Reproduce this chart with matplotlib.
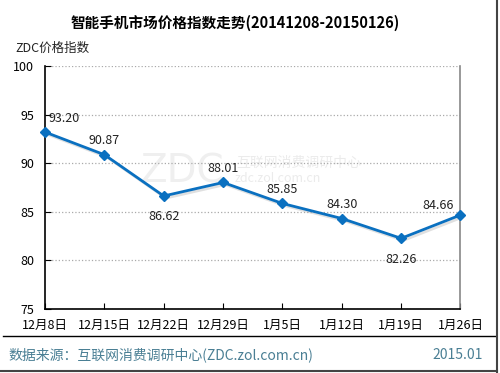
import numpy as np
import matplotlib.pyplot as plt
import matplotlib.patheffects as pe

plt.rcParams['font.family'] = ['Noto Sans CJK SC', 'DejaVu Sans']

dates = ['12月8日', '12月15日', '12月22日', '12月29日', '1月5日', '1月12日', '1月19日', '1月26日']
index = [93.20, 90.87, 86.62, 88.01, 85.85, 84.30, 82.26, 84.66]
yticks = [75, 80, 85, 90, 95, 100]
# label placement: offset in points (dx, dy)
offsets = [(14, 10), (0, 10), (0, -15), (0, 10), (0, 10), (0, 10), (0, -15), (-16, 7)]

blue = '#0a70c0'
x = np.arange(len(dates))

fig = plt.figure(figsize=(5, 3.73), dpi=100)
ax = fig.add_axes([0.09, 0.172, 0.831, 0.651])

# watermark
ax.text(0.33, 0.565, 'ZDC', transform=ax.transAxes, fontsize=28, color='#efefef',
        ha='center', va='center', family='DejaVu Sans', zorder=0)
ax.text(0.61, 0.60, '互联网消费调研中心', transform=ax.transAxes, fontsize=10,
        color='#ebebeb', ha='center', va='center', zorder=0)
ax.text(0.56, 0.535, 'zdc.zol.com.cn', transform=ax.transAxes, fontsize=9,
        color='#ebebeb', ha='center', va='center', zorder=0)

ax.plot(x, index, color='#999999', lw=2, alpha=0.3, zorder=2,
        transform=ax.transData + __import__('matplotlib').transforms.ScaledTranslation(1.5/72, -1.5/72, fig.dpi_scale_trans))
ax.plot(x, index, color=blue, lw=2, marker='D', ms=5, zorder=3, clip_on=False)

for xi, v, (dx, dy) in zip(x, index, offsets):
    ax.annotate('%.2f' % v, (xi, v), xytext=(dx, dy), textcoords='offset points',
                ha='center', va='center', fontsize=9, color='#222222')

ax.set_xlim(0, len(dates) - 1)
ax.set_ylim(75, 100)
ax.set_yticks(yticks)
ax.set_xticks(x)
ax.set_xticklabels(dates, fontsize=9)
ax.tick_params(axis='both', direction='in', length=4, width=0.8, labelsize=9)
ax.tick_params(axis='x', pad=7)
ax.tick_params(axis='y', pad=8)
ax.yaxis.grid(True, color='#aaaaaa', linestyle=':', lw=0.9)
ax.set_axisbelow(True)
for s in ['left', 'bottom']:
    ax.spines[s].set_color('black')
    ax.spines[s].set_linewidth(1.2)
ax.spines['top'].set_visible(False)
ax.spines['right'].set_color('#888888')
ax.spines['right'].set_linewidth(1.2)

fig.text(0.47, 0.938, '智能手机市场价格指数走势(20141208-20150126)', ha='center', va='center',
         fontsize=10.5, fontweight='bold', color='black')
fig.text(0.03, 0.87, 'ZDC价格指数', ha='left', va='center', fontsize=9, color='#222222')

# footer
fig.add_artist(plt.Line2D([0.006, 0.99], [0.099, 0.099], color='black', lw=1))
fig.add_artist(plt.Line2D([0.993, 0.993], [0.0, 1.0], color='#444444', lw=1.5))
fig.add_artist(plt.Line2D([0.0, 0.993], [0.005, 0.005], color='#444444', lw=1.5))
fig.text(0.016, 0.048, '数据来源：互联网消费调研中心(ZDC.zol.com.cn)', ha='left', va='center',
         fontsize=10, color='#4a7f94')
fig.text(0.965, 0.048, '2015.01', ha='right', va='center', fontsize=10, color='#4a7f94')

fig.savefig('out.png', dpi=100)
